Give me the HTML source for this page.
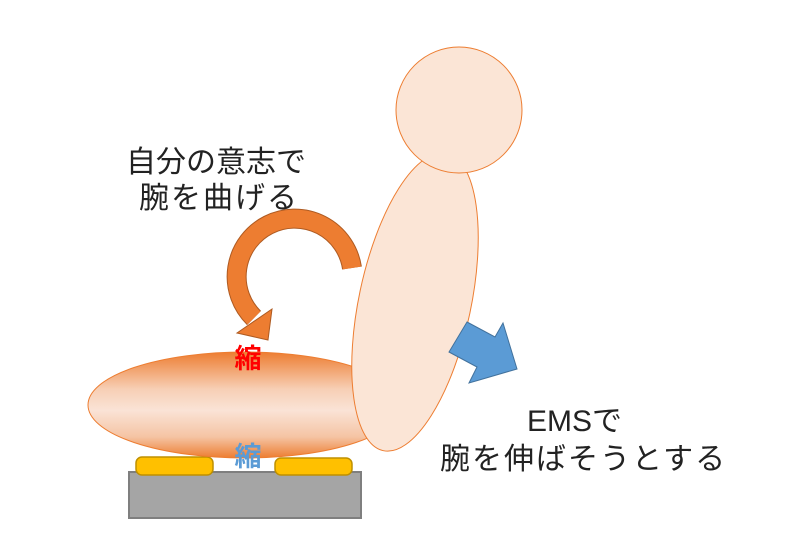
<!DOCTYPE html>
<html><head><meta charset="utf-8"><style>
html,body{margin:0;padding:0;background:#fff;}
svg{display:block;}
text{font-family:"Liberation Sans","Noto Sans CJK JP",sans-serif;}
</style></head><body>
<svg width="787" height="552" viewBox="0 0 787 552" xmlns="http://www.w3.org/2000/svg">
<defs>
<linearGradient id="fa" x1="0" y1="0" x2="0" y2="1">
<stop offset="0" stop-color="#ed7d31"/>
<stop offset="0.35" stop-color="#f7cfb5"/>
<stop offset="0.55" stop-color="#fae3d6"/>
<stop offset="0.8" stop-color="#f5c4a4"/>
<stop offset="1" stop-color="#ed7d31"/>
</linearGradient>
</defs>
<rect x="129" y="472" width="232" height="46" fill="#a5a5a5" stroke="#7f7f7f" stroke-width="2"/>
<rect x="136" y="457" width="77" height="18" rx="6" fill="#ffc000" stroke="#bf9000" stroke-width="1.5"/>
<rect x="275" y="458" width="77" height="17" rx="6" fill="#ffc000" stroke="#bf9000" stroke-width="1.5"/>
<ellipse cx="245" cy="405" rx="157" ry="53" fill="url(#fa)" stroke="#ed7d31" stroke-width="1"/>
<ellipse cx="415" cy="302" rx="56" ry="152" transform="rotate(12 415 302)" fill="#fbe5d6" stroke="#ed7d31" stroke-width="1"/>
<circle cx="459" cy="110" r="63" fill="#fbe5d6" stroke="#ed7d31" stroke-width="1"/>
<path d="M352,268 A58 58 0 1 0 254,318" fill="none" stroke="#ae5a21" stroke-width="20"/>
<path d="M352,268 A58 58 0 1 0 254,318" fill="none" stroke="#ed7d31" stroke-width="18"/>
<polygon points="237,333 268,340 272,309" fill="#ed7d31" stroke="#ae5a21" stroke-width="1"/>
<polygon points="467,322 495,337 503,323 517,369 469,383 477,367 449,352" fill="#5b9bd5" stroke="#41719c" stroke-width="1"/>
<text x="126" y="172" font-size="30" fill="#222">自分の意志で</text>
<text x="139" y="208" font-size="30" letter-spacing="2" fill="#222">腕を曲げる</text>
<text x="527" y="431" font-size="30" fill="#222">EMSで</text>
<text x="440" y="469" font-size="30" letter-spacing="2" fill="#222">腕を伸ばそうとする</text>
<text x="248" y="368" font-size="27" font-weight="bold" fill="#ff0000" text-anchor="middle">縮</text>
<text x="248" y="466" font-size="27" font-weight="bold" fill="#5b9bd5" text-anchor="middle">縮</text>
</svg>
</body></html>
